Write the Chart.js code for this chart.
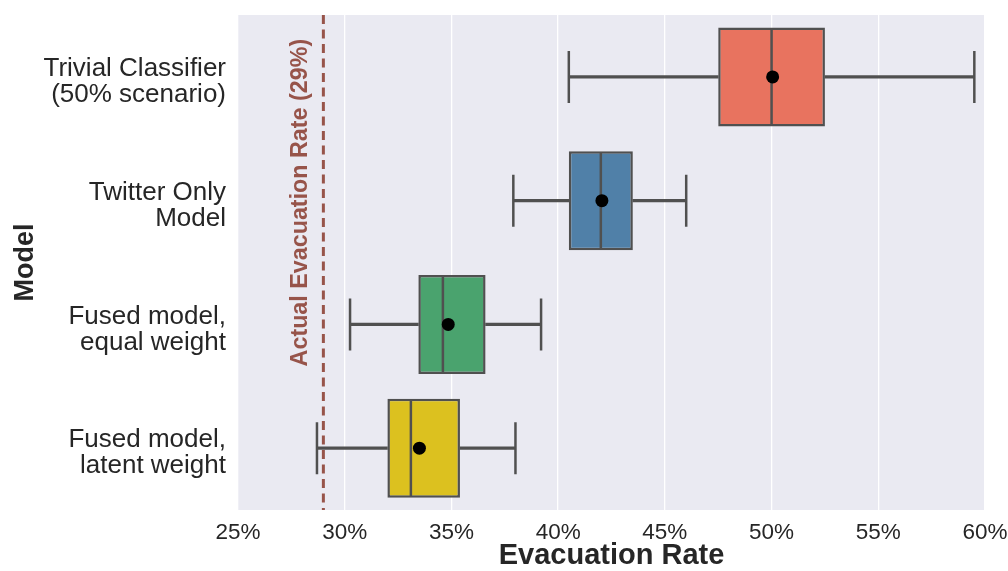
<!DOCTYPE html>
<html>
<head>
<meta charset="utf-8">
<script src="https://cdn.jsdelivr.net/npm/chart.js@4.4.1/dist/chart.umd.min.js"></script>
<style>
  html, body { margin: 0; padding: 0; background: #ffffff; }
  #wrap { width: 1008px; height: 571px; position: relative; }
</style>
</head>
<body>
<div id="wrap"><canvas id="c" width="1008" height="571"></canvas></div>
<script>
// ---- data (percent) ----
const categories = [
  ['Trivial Classifier', '(50% scenario)'],
  ['Twitter Only', 'Model'],
  ['Fused model,', 'equal weight'],
  ['Fused model,', 'latent weight']
];
const whiskerLow  = [40.5, 37.9, 30.25, 28.7];
const q1          = [47.5, 40.5, 33.45, 32.0];
const medians     = [50.0, 42.0, 34.6, 33.1];
const q3          = [52.5, 43.5, 36.6, 35.4];
const whiskerHigh = [59.5, 46.0, 39.2, 38.0];
const means       = [50.05, 42.05, 34.85, 33.5];
const boxColors   = ['#e8735f', '#5080a8', '#4aa36e', '#dcc11f'];
const actualRate  = 29;
const actualLabel = 'Actual Evacuation Rate (29%)';
const xTicks      = [25, 30, 35, 40, 45, 50, 55, 60];

const FONT = "'Liberation Sans', Arial, sans-serif";
const EDGE = '#505050';

const bgPlugin = {
  id: 'bg',
  beforeDraw(chart) {
    const { ctx, chartArea: a } = chart;
    ctx.save();
    ctx.fillStyle = '#eaeaf2';
    ctx.fillRect(a.left, a.top, a.right - a.left, a.bottom - a.top);
    ctx.restore();
  }
};

const refLinePlugin = {
  id: 'refline',
  afterDatasetsDraw(chart) {
    const { ctx, chartArea: a, scales } = chart;
    const x = scales.x.getPixelForValue(actualRate);
    ctx.save();
    ctx.strokeStyle = '#97544a';
    ctx.lineWidth = 3;
    ctx.setLineDash([9, 5.5]);
    ctx.beginPath();
    ctx.moveTo(x, a.top);
    ctx.lineTo(x, a.bottom);
    ctx.stroke();
    ctx.setLineDash([]);
    ctx.translate(x - 23, scales.y.getPixelForValue(1) + 2);
    ctx.rotate(-Math.PI / 2);
    ctx.fillStyle = '#97544a';
    ctx.font = "bold 23.3px " + FONT;
    ctx.textAlign = 'center';
    ctx.textBaseline = 'middle';
    ctx.fillText(actualLabel, 0, 0);
    ctx.restore();
  }
};

const catKeys = categories.map(c => c.join(' '));
const pts = arr => arr.map((v, i) => ({ x: v, y: catKeys[i] }));
const noPad = scale => { scale.paddingTop = 0; scale.paddingBottom = 0; scale.paddingLeft = 0; scale.paddingRight = 0; };

new Chart(document.getElementById('c'), {
  type: 'bar',
  data: {
    labels: catKeys,
    datasets: [
      { label: 'whisker-low', data: whiskerLow.map((v, i) => [v, q1[i]]), backgroundColor: EDGE,
        barThickness: 2.5, grouped: false, order: 5 },
      { label: 'whisker-high', data: whiskerHigh.map((v, i) => [q3[i], v]), backgroundColor: EDGE,
        barThickness: 2.5, grouped: false, order: 5 },
      { label: 'box', data: q1.map((v, i) => [v, q3[i]]), backgroundColor: boxColors,
        borderColor: EDGE, borderWidth: 2.5, borderSkipped: false, grouped: false,
        barPercentage: 0.8, categoryPercentage: 1, order: 4 },
      { type: 'line', label: 'caps', indexAxis: 'y', data: pts(whiskerLow).concat(pts(whiskerHigh)),
        showLine: false, pointStyle: 'line', rotation: 90, pointRadius: 26,
        borderColor: EDGE, pointBorderColor: EDGE, pointBorderWidth: 2.5, order: 3 },
      { type: 'line', label: 'median', indexAxis: 'y', data: pts(medians),
        showLine: false, pointStyle: 'line', rotation: 90, pointRadius: 48.5,
        borderColor: EDGE, pointBorderColor: EDGE, pointBorderWidth: 2.5, order: 2 },
      { type: 'line', label: 'mean', indexAxis: 'y', data: pts(means),
        showLine: false, pointStyle: 'circle', pointRadius: 6.5,
        pointBackgroundColor: '#000', pointBorderColor: '#000', pointBorderWidth: 0, order: 1 }
    ]
  },
  options: {
    indexAxis: 'y',
    responsive: false,
    animation: false,
    events: [],
    layout: { autoPadding: false, padding: { left: 0, right: 23, top: 15, bottom: 0 } },
    plugins: { legend: { display: false }, tooltip: { enabled: false } },
    scales: {
      x: {
        type: 'linear',
        min: 25, max: 60,
        afterBuildTicks(scale) { scale.ticks = xTicks.map(v => ({ value: v })); },
        afterFit(scale) { scale.height = 61; noPad(scale); },
        grid: { color: '#ffffff', lineWidth: 1.3, drawTicks: false },
        border: { display: false },
        ticks: { color: '#262626', font: { family: FONT, size: 22.5 }, padding: 9,
                 callback: v => v + '%', maxRotation: 0, autoSkip: false },
        title: { display: true, text: 'Evacuation Rate', color: '#262626',
                 font: { family: FONT, size: 29, weight: 'bold', lineHeight: 1 },
                 padding: { top: 0, bottom: 1 } }
      },
      y: {
        type: 'category',
        afterFit(scale) { scale.width = 238; noPad(scale); },
        grid: { display: false, drawTicks: false },
        border: { display: false },
        ticks: { color: '#262626', font: { family: FONT, size: 26, lineHeight: 1.0 }, padding: 12,
                 labelOffset: 5, callback: (v, i) => categories[i] },
        title: { display: true, text: 'Model', color: '#262626',
                 font: { family: FONT, size: 27, weight: 'bold', lineHeight: 1 },
                 padding: { top: 12, bottom: 0 } }
      }
    }
  },
  plugins: [bgPlugin, refLinePlugin]
});
</script>
</body>
</html>
